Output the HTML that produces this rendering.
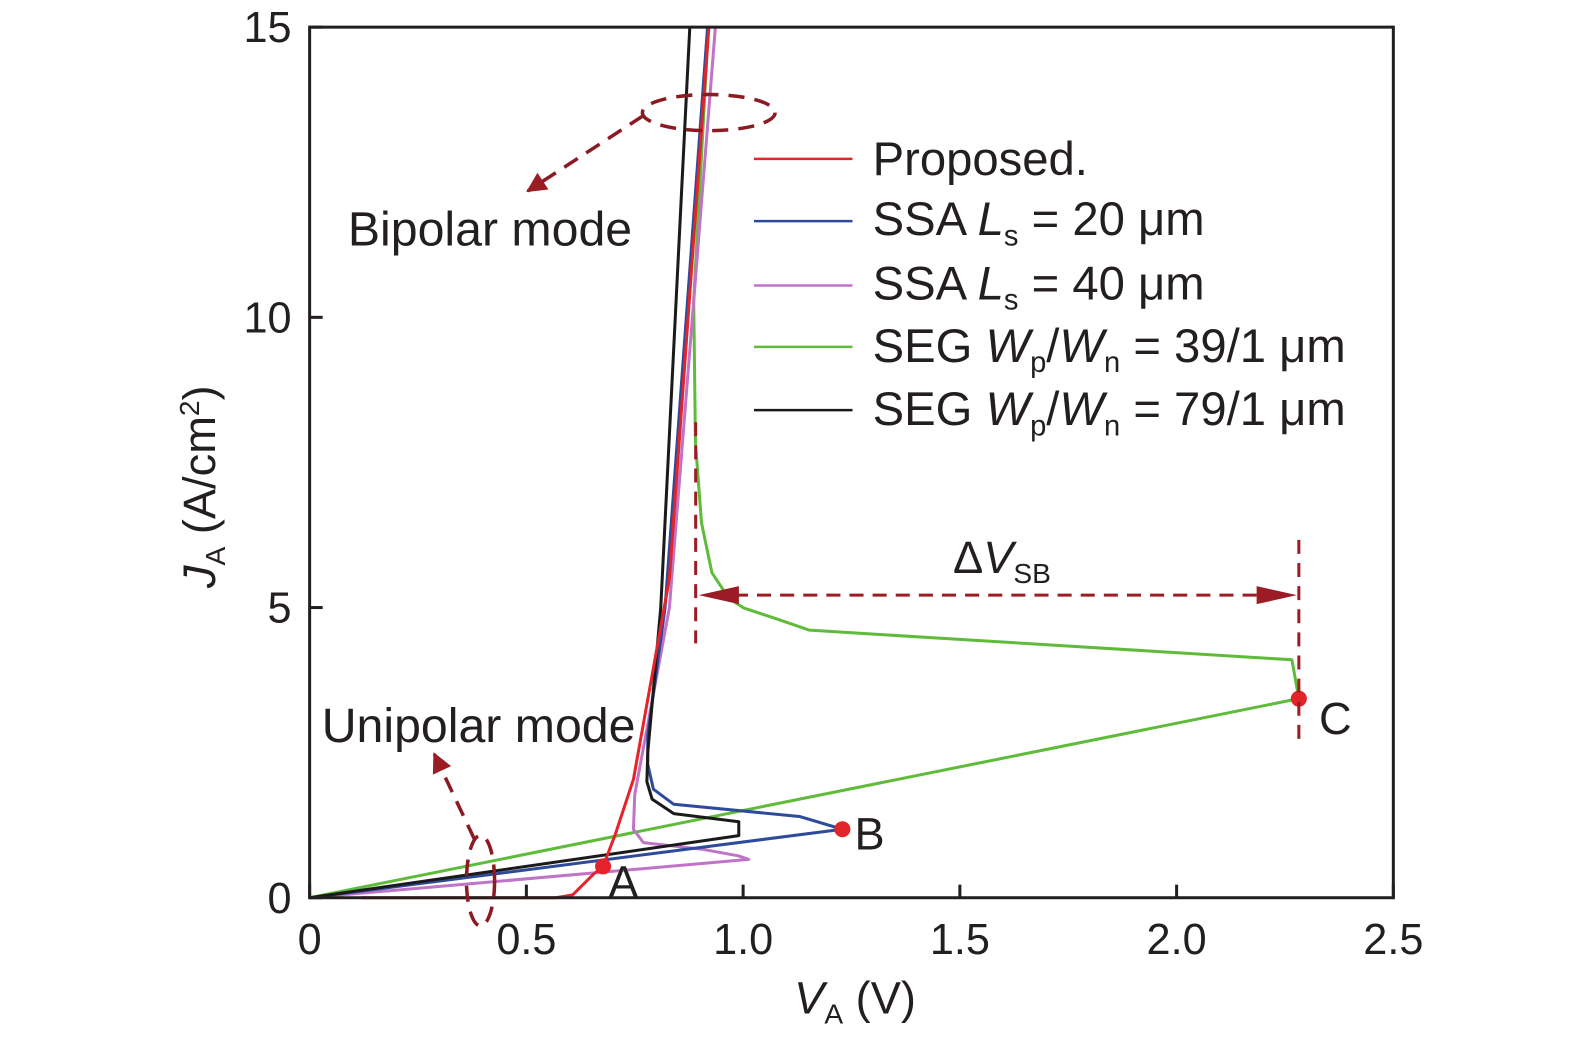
<!DOCTYPE html>
<html><head><meta charset="utf-8"><style>
body{margin:0;background:#fff}
svg{display:block;font-family:"Liberation Sans","DejaVu Sans",sans-serif}
</style></head><body>
<svg id="chart" width="1575" height="1043" viewBox="0 0 1575 1043" xmlns="http://www.w3.org/2000/svg">
<defs>
<marker id="ah2" viewBox="0 0 10 10" refX="9" refY="5" markerWidth="40" markerHeight="20" markerUnits="userSpaceOnUse" orient="auto"><path d="M0,0L10,5L0,10z" fill="#9b1c24"/></marker>
</defs>
<g transform="scale(1.0053)">
<g id="series"></g>
<g id="axes"></g>
<g id="annot">
<ellipse cx="705" cy="112" rx="66" ry="18" fill="none" stroke="#8b1a22" stroke-width="3.5" stroke-dasharray="16,10"/>
<line x1="640" y1="115" x2="525" y2="190" stroke="#8b1a22" stroke-width="3.5" stroke-dasharray="16,10" marker-end="url(#ah2)"/>
<text x="346" y="244" font-size="48" fill="#231f20">Bipolar mode</text>
<ellipse cx="478" cy="876" rx="14" ry="45" fill="none" stroke="#8b1a22" stroke-width="3.5" stroke-dasharray="16,10"/>
<line x1="472" y1="835" x2="432" y2="750" stroke="#8b1a22" stroke-width="3.5" stroke-dasharray="16,10" marker-end="url(#ah2)"/>
<text x="320" y="738" font-size="48" fill="#231f20">Unipolar mode</text>
<line x1="692" y1="420" x2="692" y2="640" stroke="#9b1c24" stroke-width="3" stroke-dasharray="14,9"/>
<line x1="1292" y1="537" x2="1292" y2="735" stroke="#9b1c24" stroke-width="3" stroke-dasharray="14,9"/>
<line x1="730" y1="592" x2="1255" y2="592" stroke="#9b1c24" stroke-width="3" stroke-dasharray="14,9"/>
<path d="M695,592L735,583L735,601z" fill="#9b1c24"/>
<path d="M1290,592L1250,583L1250,601z" fill="#9b1c24"/>
<text x="948" y="570" font-size="45" fill="#231f20">Δ<tspan font-style="italic">V</tspan><tspan font-size="28" dy="10">SB</tspan></text>
<text x="605" y="893" font-size="45" fill="#231f20">A</text>
<text x="850" y="845" font-size="45" fill="#231f20">B</text>
<text x="1312" y="730" font-size="45" fill="#231f20">C</text>
</g>
<g id="legend" font-size="47" fill="#231f20">
<line x1="750" y1="158" x2="848" y2="158" stroke="#e3242b" stroke-width="2.5"/>
<text x="868" y="174">Proposed.</text>
<line x1="750" y1="220" x2="848" y2="220" stroke="#2e4b9b" stroke-width="2.5"/>
<text x="868" y="234">SSA <tspan font-style="italic">L</tspan><tspan font-size="29" dy="10">s</tspan><tspan dy="-10"> = 20 μm</tspan></text>
<line x1="750" y1="284" x2="848" y2="284" stroke="#c074c8" stroke-width="2.5"/>
<text x="868" y="298">SSA <tspan font-style="italic">L</tspan><tspan font-size="29" dy="10">s</tspan><tspan dy="-10"> = 40 μm</tspan></text>
<line x1="750" y1="345" x2="848" y2="345" stroke="#5fbb3a" stroke-width="2.5"/>
<text x="868" y="360">SEG <tspan font-style="italic">W</tspan><tspan font-size="29" dy="10">p</tspan><tspan dy="-10">/</tspan><tspan font-style="italic">W</tspan><tspan font-size="29" dy="10">n</tspan><tspan dy="-10"> = 39/1 μm</tspan></text>
<line x1="750" y1="408" x2="848" y2="408" stroke="#1a1a1a" stroke-width="2.5"/>
<text x="868" y="423">SEG <tspan font-style="italic">W</tspan><tspan font-size="29" dy="10">p</tspan><tspan dy="-10">/</tspan><tspan font-style="italic">W</tspan><tspan font-size="29" dy="10">n</tspan><tspan dy="-10"> = 79/1 μm</tspan></text>
</g>
</g>
</svg>
<script>
const xTicks=[0,0.5,1.0,1.5,2.0,2.5];
const xTickLabels=["0","0.5","1.0","1.5","2.0","2.5"];
const yTicks=[0,5,10,15];
const yTickLabels=["0","5","10","15"];
const seg79V=[0,0.99,0.99,0.84,0.79,0.778,0.78,0.81,0.877];
const seg79J=[0,1.07,1.31,1.45,1.7,2.0,2.5,5,15];
const ssa20V=[0,1.229,1.13,0.84,0.793,0.78,0.78,0.82,0.918];
const ssa20J=[0,1.18,1.40,1.61,1.87,2.3,2.8,5,15];
const ssa40V=[0,1.013,0.99,0.91,0.77,0.747,0.75,0.83,0.936];
const ssa40J=[0,0.66,0.72,0.83,0.95,1.18,1.78,5,15];
const seg39V=[0,2.282,2.266,1.153,1.071,1.002,0.967,0.928,0.904,0.89,0.886,0.92];
const seg39J=[0,3.43,4.1,4.61,4.82,4.99,5.16,5.6,6.46,7.85,10.3,15];
const propV=[0.12,0.568,0.607,0.654,0.677,0.705,0.747,0.77,0.83,0.921];
const propJ=[0,0,0.05,0.4,0.54,1.09,2.04,3.0,5.5,15];
const markerV=[0.677,1.229,2.282];
const markerJ=[0.54,1.18,3.43];
const X0=308,X1=1386,Y0=893,Y1=27;
const sx=v=>X0+(v-0)/(2.5-0)*(X1-X0);
const sy=j=>Y0-(j-0)/(15-0)*(Y0-Y1);
const NS="http://www.w3.org/2000/svg";
const sg=document.getElementById('series');
function line(V,J,color,name){
  const p=document.createElementNS(NS,'polyline');
  p.setAttribute('points',V.map((v,i)=>sx(v)+','+sy(J[i])).join(' '));
  p.setAttribute('fill','none');p.setAttribute('stroke',color);p.setAttribute('stroke-width','3');p.setAttribute('stroke-linejoin','round');
  
  
  sg.appendChild(p);
}
line(seg39V,seg39J,'#5fbb3a','series-seg-39-1');
line(ssa40V,ssa40J,'#c074c8','series-ssa-40');
line(ssa20V,ssa20J,'#2e4b9b','series-ssa-20');
line(seg79V,seg79J,'#1a1a1a','series-seg-79-1');
line(propV,propJ,'#e3242b','series-proposed');
markerV.forEach((v,i)=>{
  const c=document.createElementNS(NS,'circle');
  c.setAttribute('cx',sx(v));c.setAttribute('cy',sy(markerJ[i]));c.setAttribute('r','8');c.setAttribute('fill','#e3242b');
  
  
  sg.appendChild(c);
});
const ax=document.getElementById('axes');
const fr=document.createElementNS(NS,'rect');
fr.setAttribute('x',X0);fr.setAttribute('y',Y1);fr.setAttribute('width',X1-X0);fr.setAttribute('height',Y0-Y1);
fr.setAttribute('fill','none');fr.setAttribute('stroke','#231f20');fr.setAttribute('stroke-width','3');


ax.appendChild(fr);
xTicks.forEach((t,i)=>{
  const l=document.createElementNS(NS,'line');
  l.setAttribute('x1',sx(t));l.setAttribute('x2',sx(t));l.setAttribute('y1',Y0);l.setAttribute('y2',Y0-13);l.setAttribute('stroke','#231f20');l.setAttribute('stroke-width','3');
  
  
  ax.appendChild(l);
  const tx=document.createElementNS(NS,'text');
  tx.setAttribute('x',sx(t));tx.setAttribute('y',Y0+56);tx.setAttribute('text-anchor','middle');tx.setAttribute('font-size','43');tx.setAttribute('fill','#231f20');
  tx.textContent=xTickLabels[i];
  
  
  ax.appendChild(tx);
});
yTicks.forEach((t,i)=>{
  const l=document.createElementNS(NS,'line');
  l.setAttribute('x1',X0);l.setAttribute('x2',X0+13);l.setAttribute('y1',sy(t));l.setAttribute('y2',sy(t));l.setAttribute('stroke','#231f20');l.setAttribute('stroke-width','3');
  
  
  ax.appendChild(l);
  const tx=document.createElementNS(NS,'text');
  tx.setAttribute('x',X0-18);tx.setAttribute('y',sy(t)+15);tx.setAttribute('text-anchor','end');tx.setAttribute('font-size','43');tx.setAttribute('fill','#231f20');
  tx.textContent=yTickLabels[i];
  
  
  ax.appendChild(tx);
});
const xl=document.createElementNS(NS,'text');
xl.setAttribute('x',790);xl.setAttribute('y',1008);xl.setAttribute('font-size','45');xl.setAttribute('fill','#231f20');
xl.innerHTML='<tspan font-style="italic">V</tspan><tspan font-size="28" dy="10">A</tspan><tspan dy="-10"> (V)</tspan>';


ax.appendChild(xl);
const yl=document.createElementNS(NS,'text');
yl.setAttribute('transform','translate(214,585) rotate(-90)');yl.setAttribute('font-size','45');yl.setAttribute('fill','#231f20');
yl.innerHTML='<tspan font-style="italic">J</tspan><tspan font-size="28" dy="10">A</tspan><tspan dy="-10"> (A/cm</tspan><tspan font-size="28" dy="-16">2</tspan><tspan dy="16">)</tspan>';


ax.appendChild(yl);
</script>
</body></html>
